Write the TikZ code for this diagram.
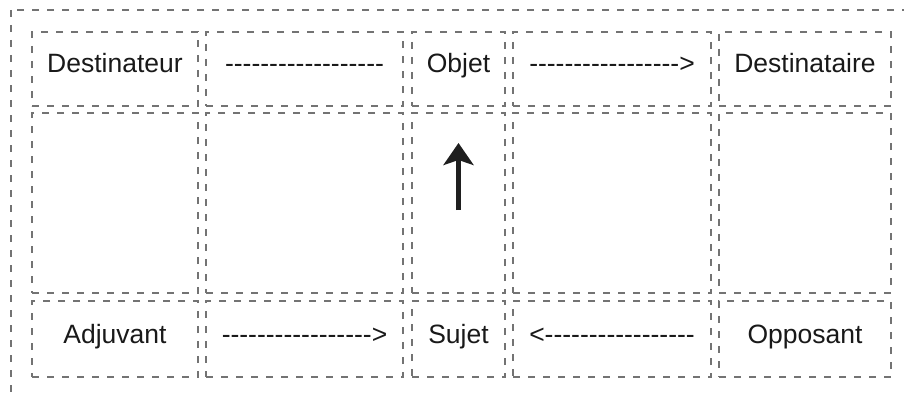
\documentclass[tikz,border=0pt]{standalone}
\usepackage{fontspec}
\setmainfont{Liberation Sans}[Ligatures=TeXOff]
\usetikzlibrary{positioning,arrows.meta}

\begin{document}
\begin{tikzpicture}[x=1pt,y=-1pt,
        node distance=8pt,
        cell/.style={
            rectangle,
            draw=black!55, line width=1.5pt,
            dash pattern=on 7pt off 8pt,
            outer sep=0pt, inner sep=0pt,
            text=black!90,
            font=\fontsize{26.5}{30}\selectfont,
            text height=19pt, text depth=11pt,
            minimum height=74pt},
        frame/.style={
            draw=black!55, line width=1.5pt,
            dash pattern=on 7pt off 8pt},
        arrow/.style={
            line width=4.5pt, black!88,
            -{Stealth[length=22pt,width=30pt,inset=5pt]}}
        ]

        \useasboundingbox (0,0) rectangle (904,396);
        \clip (0,0) rectangle (904,396);
        \draw [frame] (11,10) rectangle (940,430);

        % haut
        \node (destinateur) [cell, minimum width=166pt] at (115,69) {Destinateur};
        \node (flechehaut) [cell, minimum width=197pt, right=of destinateur] {------------------};
        \node (objet) [cell, minimum width=93pt, right=9pt of flechehaut] {Objet};
        \node (flechedroite) [cell, minimum width=198pt, right=of objet] {----------------->};
        \node (destinataire) [cell, minimum width=172pt, right=of flechedroite] {Destinataire};

        % milieu
        \node (vide1) [cell, minimum width=166pt, minimum height=180pt, below=7pt of destinateur] {};
        \node (vide2) [cell, minimum width=197pt, minimum height=180pt, below=7pt of flechehaut] {};
        \node (axe) [cell, minimum width=93pt, minimum height=180pt, below=7pt of objet] {};
        \node (vide4) [cell, minimum width=198pt, minimum height=180pt, below=7pt of flechedroite] {};
        \node (vide5) [cell, minimum width=172pt, minimum height=180pt, below=7pt of destinataire] {};

        % bas
        \node (adjuvant) [cell, minimum width=166pt, minimum height=76pt, below=of vide1] {Adjuvant};
        \node (flechebas) [cell, minimum width=197pt, minimum height=76pt, below=of vide2] {----------------->};
        \node (sujet) [cell, minimum width=93pt, minimum height=76pt, below=of axe] {Sujet};
        \node (flechegauche) [cell, minimum width=198pt, minimum height=76pt, below=of vide4] {<-----------------};
        \node (opposant) [cell, minimum width=172pt, minimum height=76pt, below=of vide5] {Opposant};

        \coordinate (queue) at ([yshift=-7pt]axe.center);
        \coordinate (pointe) at ([yshift=60pt]axe.center);
        \draw [arrow] (queue) -- (pointe);

        \end{tikzpicture}
\end{document}
